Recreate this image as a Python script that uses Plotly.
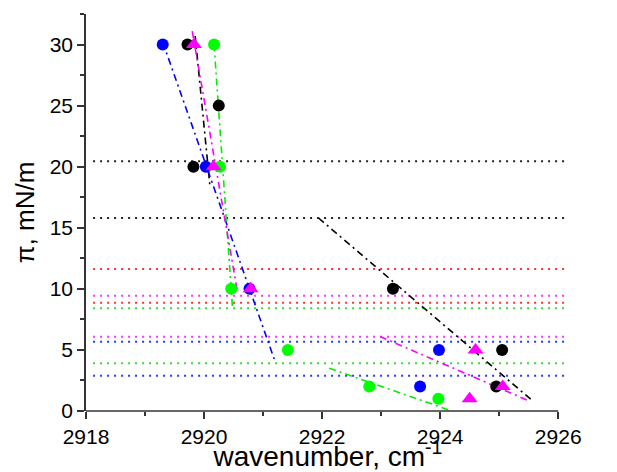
import plotly.graph_objects as go

# ---- data ----
black_x = [2919.72, 2920.25, 2919.82, 2923.20, 2925.05, 2924.95]
black_y = [30, 25, 20, 10, 5, 2]
blue_x = [2919.30, 2920.03, 2920.77, 2923.98, 2923.66]
blue_y = [30, 20, 10, 5, 2]
green_x = [2920.17, 2920.27, 2920.46, 2921.42, 2922.80, 2923.97]
green_y = [30, 20, 10, 5, 2, 1]
magenta_x = [2919.83, 2920.16, 2920.79, 2924.60, 2925.06, 2924.50]
magenta_y = [30, 20, 10, 5, 2, 1]

# fitted dash-dot lines (endpoints)
black_fit1_x = [2919.85, 2920.10]
black_fit1_y = [30.7, 18.4]
black_fit2_x = [2921.94, 2925.55]
black_fit2_y = [15.8, 0.9]
blue_fit_x = [2919.30, 2921.20]
blue_fit_y = [30.2, 4.1]
magenta_fit1_x = [2919.80, 2920.57]
magenta_fit1_y = [31.1, 9.65]
magenta_fit2_x = [2922.98, 2925.52]
magenta_fit2_y = [6.1, 0.8]
green_fit1_x = [2920.17, 2920.48]
green_fit1_y = [30.0, 8.6]
green_fit2_x = [2922.12, 2924.20]
green_fit2_y = [3.5, 0.0]

# horizontal dotted reference levels
hline_levels = [20.45, 15.8, 11.63, 9.43, 8.86, 8.42, 6.07, 5.67, 3.9, 2.89]
hline_colors = ["#222222", "#222222", "#FF3333", "#FF33FF", "#FF3333", "#33DD33",
                "#FF33FF", "#3333FF", "#33DD33", "#3333FF"]
hline_x = [2918.12, 2926.15]

x_ticks = [2918, 2920, 2922, 2924, 2926]
y_ticks = [0, 5, 10, 15, 20, 25, 30]

BLACK = "#000000"
BLUE = "#0000FF"
GREEN = "#00FF00"
MAGENTA = "#FF00FF"

fig = go.Figure()

# dotted horizontal lines
for lvl, col in zip(hline_levels, hline_colors):
    fig.add_trace(go.Scatter(x=hline_x, y=[lvl, lvl], mode="lines",
                             line=dict(color=col, width=2, dash="2px,5px"),
                             showlegend=False, hoverinfo="skip"))

# fit lines
fits = [
    (black_fit1_x, black_fit1_y, BLACK),
    (black_fit2_x, black_fit2_y, BLACK),
    (blue_fit_x, blue_fit_y, BLUE),
    (green_fit1_x, green_fit1_y, "#00EE00"),
    (green_fit2_x, green_fit2_y, "#00EE00"),
    (magenta_fit1_x, magenta_fit1_y, MAGENTA),
    (magenta_fit2_x, magenta_fit2_y, MAGENTA),
]
for fx, fy, col in fits:
    fig.add_trace(go.Scatter(x=fx, y=fy, mode="lines",
                             line=dict(color=col, width=1.6, dash="7px,4px,2px,4px"),
                             showlegend=False, hoverinfo="skip"))

# markers
fig.add_trace(go.Scatter(x=black_x, y=black_y, mode="markers",
                         marker=dict(symbol="circle", size=12, color=BLACK),
                         showlegend=False))
fig.add_trace(go.Scatter(x=blue_x, y=blue_y, mode="markers",
                         marker=dict(symbol="circle", size=12, color=BLUE),
                         showlegend=False))
fig.add_trace(go.Scatter(x=green_x, y=green_y, mode="markers",
                         marker=dict(symbol="circle", size=12, color=GREEN),
                         showlegend=False))
fig.add_trace(go.Scatter(x=magenta_x, y=magenta_y, mode="markers",
                         marker=dict(symbol="triangle-up", size=14, color=MAGENTA),
                         showlegend=False))

# x axis line only spanning 2918..2926
fig.add_shape(type="line", xref="x", yref="paper", x0=2918, x1=2926, y0=0, y1=0,
              line=dict(color="#333333", width=1.5))

fig.update_layout(
    width=617, height=472,
    margin=dict(l=86, r=47, t=14, b=61),
    paper_bgcolor="white", plot_bgcolor="white",
    font=dict(family="Liberation Sans, Arial, sans-serif", color="black"),
    showlegend=False,
)
fig.update_xaxes(
    range=[2918, 2926.2], tickvals=x_ticks, ticktext=[str(v) for v in x_ticks],
    ticks="outside", ticklen=7, tickwidth=1.5, tickcolor="#333333",
    minor=dict(dtick=1, tick0=2918, ticks="outside", ticklen=4, tickwidth=1.5, tickcolor="#333333"),
    showline=False, showgrid=False, zeroline=False, automargin=False,
    tickfont=dict(size=21),
    title=dict(text="wavenumber, cm<sup>-1</sup>", font=dict(size=28), standoff=0),
)
fig.update_yaxes(
    range=[0, 32.5], tickvals=y_ticks, ticktext=[str(v) for v in y_ticks],
    ticks="outside", ticklen=7, tickwidth=1.5, tickcolor="#333333",
    minor=dict(dtick=2.5, tick0=0, ticks="outside", ticklen=4, tickwidth=1.5, tickcolor="#333333"),
    showline=True, linecolor="#333333", linewidth=1.5,
    showgrid=False, zeroline=False, automargin=False,
    tickfont=dict(size=21),
    title=dict(text="π, mN/m", font=dict(size=26), standoff=8),
)

fig.write_html("out.html")
